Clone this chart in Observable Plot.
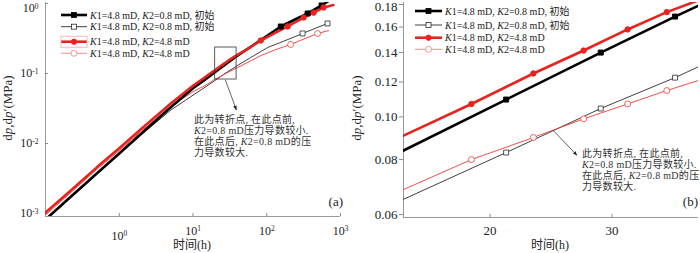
<!DOCTYPE html>
<html><head><meta charset="utf-8">
<script src="https://cdn.jsdelivr.net/npm/d3@7"></script>
<script src="https://cdn.jsdelivr.net/npm/@observablehq/plot@0.6"></script>
<style>
body{margin:0;background:#fff;}
#wrap{position:relative;width:700px;height:253px;overflow:hidden;}
#wrap svg{position:absolute;top:0;}
</style></head><body><div id="wrap"></div>
<script>
// ---------- data ----------
// thick black: dp, K1=4.8 mD, K2=0.8 mD, 初始
const timeBlackP = [0.1, 0.2, 0.5, 1, 2, 5, 10, 15, 21.1, 28.9, 37, 40, 60, 100, 155, 250, 358, 554, 750];
const valBlackP  = [8.2e-4, 1.58e-3, 3.76e-3, 7.2e-3, 0.0139, 0.033, 0.0615, 0.0839, 0.1095, 0.140, 0.169, 0.179, 0.239, 0.343, 0.469, 0.60, 0.72, 0.936, 1.15];
// thin black: dp', K1=4.8 mD, K2=0.8 mD, 初始
const timeBlackD = [0.1, 0.2, 0.5, 1, 2, 5, 10, 15, 21.1, 28.9, 37, 40, 60, 103, 150, 200, 306, 450, 667];
const valBlackD  = [8.0e-4, 1.54e-3, 3.7e-3, 7.0e-3, 0.0134, 0.030, 0.049, 0.065, 0.083, 0.1045, 0.1228, 0.130, 0.168, 0.235, 0.275, 0.31, 0.373, 0.44, 0.518];
// thick red: dp, K1=4.8 mD, K2=4.8 mD
const timeRedP = [0.1, 0.2, 0.5, 1, 2, 5, 10, 15, 18.8, 23.1, 27.3, 31.6, 36, 40, 60, 83, 130, 192, 316, 432, 589, 800];
const valRedP  = [1.03e-3, 1.95e-3, 4.6e-3, 8.55e-3, 0.0162, 0.0372, 0.0666, 0.0907, 0.107, 0.1255, 0.1415, 0.158, 0.173, 0.184, 0.237, 0.296, 0.38, 0.47, 0.63, 0.74, 0.877, 0.95];
// thin red: dp', K1=4.8 mD, K2=4.8 mD
const timeRedD = [0.1, 0.2, 0.5, 1, 2, 5, 10, 15, 18.8, 23.1, 27.3, 31.6, 36, 40, 60, 83, 130, 211, 330, 489, 690];
const valRedD  = [9.5e-4, 1.82e-3, 4.3e-3, 7.9e-3, 0.015, 0.034, 0.055, 0.0684, 0.080, 0.0898, 0.099, 0.107, 0.1148, 0.121, 0.151, 0.18, 0.218, 0.26, 0.315, 0.373, 0.41];

// marker times
const markA = {blackP:[155, 358, 554], blackD:[306, 667], redP:[83, 192, 316, 432, 589], redD:[211, 489]};
const markB = {blackP:[21.1, 28.9, 37], blackD:[21.1, 28.9, 37], redP:[18.8, 23.1, 27.3, 31.6, 36], redD:[18.8, 23.1, 27.3, 31.6, 36]};

// ticks
const xTicksA = [1, 10, 100, 1000];
const yTicksA = [0.001, 0.01, 0.1, 1];
const xTicksB = [20, 30];
const yTicksB = [0.06, 0.08, 0.10, 0.12, 0.14, 0.16, 0.18];

// texts
const legendLabels = ["K1=4.8 mD, K2=0.8 mD, 初始", "K1=4.8 mD, K2=0.8 mD, 初始", "K1=4.8 mD, K2=4.8 mD", "K1=4.8 mD, K2=4.8 mD"];
const noteLines = ["此为转折点, 在此点前,", "K2=0.8 mD压力导数较小.", "在此点后, K2=0.8 mD的压", "力导数较大."];
const xTitle = "时间(h)";

// ---------- build ----------
const FONT = '"Liberation Serif","Noto Sans CJK SC",serif';
const styles = {
  blackP: {stroke:"#000", w:2.6, sym:"square", fill:"#000", r:2.8},
  blackD: {stroke:"#2a2a2a", w:0.9, sym:"square", fill:"#fff", r:2.8},
  redP:   {stroke:"#e8231f", w:2.6, sym:"circle", fill:"#e8231f", r:2.7},
  redD:   {stroke:"#ec3b35", w:0.9, sym:"circle", fill:"#fff", r:3}
};
const order = ["blackP", "blackD", "redP", "redD"];
const tab = (ts, vs) => ts.map((t, i) => ({t, v: vs[i]}));
const data = {
  blackP: tab(timeBlackP, valBlackP),
  blackD: tab(timeBlackD, valBlackD),
  redP: tab(timeRedP, valRedP),
  redD: tab(timeRedD, valRedD)
};

function seriesMarks(marks) {
  const out = [];
  for (const k of ["blackD", "redD", "blackP", "redP"]) {
    const s = styles[k];
    out.push(Plot.line(data[k], {x:"t", y:"v", stroke:s.stroke, strokeWidth:s.w, clip:true}));
  }
  for (const k of ["blackD", "redD", "blackP", "redP"]) {
    const s = styles[k];
    out.push(Plot.dot(data[k].filter(d => marks[k].includes(d.t)),
      {x:"t", y:"v", symbol:s.sym, r:s.r, stroke:s.stroke, fill:s.fill, strokeWidth: s.fill === "#fff" ? 0.8 : 1, clip:true}));
  }
  return out;
}

const wrap = document.getElementById("wrap");

const plotA = Plot.plot({
  width:350, height:253, marginLeft:45, marginRight:10, marginTop:2, marginBottom:37,
  style:{fontFamily:FONT, fontSize:"12px", color:"#222", background:"transparent", overflow:"visible"},
  x:{type:"log", domain:[0.1, 1000]},
  y:{type:"log", domain:[9.06e-4, 1.033]},
  marks:[
    Plot.ruleX([0.1], {stroke:"#999"}),
    Plot.ruleY([9.06e-4], {stroke:"#999"}),
    Plot.axisX({ticks:xTicksA, tickFormat:d => "10^" + Math.round(Math.log10(d)), tickSize:-3, tickPadding:13, label:null, stroke:"#888", fill:"#222"}),
    Plot.axisY({ticks:yTicksA, tickFormat:d => "10^" + Math.round(Math.log10(d)), tickSize:-3, tickPadding:10, label:null, stroke:"#888", fill:"#222"}),
    ...seriesMarks(markA)
  ]
});
plotA.style.left = "0px";
wrap.appendChild(plotA);

const plotB = Plot.plot({
  width:350, height:253, marginLeft:53, marginRight:2, marginTop:2, marginBottom:36,
  style:{fontFamily:FONT, fontSize:"13px", color:"#222", background:"transparent", overflow:"visible"},
  x:{type:"log", domain:[15, 40]},
  y:{type:"log", domain:[0.0591, 0.1819]},
  marks:[
    Plot.ruleX([15], {stroke:"#999"}),
    Plot.ruleY([0.0591], {stroke:"#999"}),
    Plot.axisX({ticks:xTicksB, tickFormat:d => String(d), tickSize:-3, tickPadding:11, label:null, stroke:"#888", fill:"#222"}),
    Plot.axisY({ticks:yTicksB, tickFormat:d3.format(".2f"), tickSize:4, tickPadding:2, label:null, stroke:"#888", fill:"#222"}),
    ...seriesMarks(markB)
  ]
});
plotB.style.left = "350px";
wrap.appendChild(plotB);

const nudge = (el, dy) => {
  const s = d3.select(el);
  s.attr("transform", (s.attr("transform") || "") + ` translate(0,${dy})`);
};

// superscript tick labels
const yScaleA = plotA.scale("y");
d3.select(plotA).selectAll("text").each(function() {
  const m = /^10\^(.+)$/.exec(this.textContent);
  if (m) {
    const t = d3.select(this);
    t.text("");
    t.append("tspan").text("10");
    t.append("tspan").attr("dy", "-0.5em").attr("font-size", "0.62em").text(m[1]);
  }
});
// the top y label of panel a sits a little below its tick (as in the reference)
d3.select(plotA).selectAll("text").each(function() {
  const box = this.getBBox();
  if (this.textContent === "100" && box.y < 8 && box.x < 45) nudge(this, 5);
});
// top label of panel b sits slightly inside the svg
d3.select(plotB).selectAll("text").each(function() {
  if (this.textContent === "0.18") nudge(this, 2);
});

function richLabel(sel, str) {
  str.split(/(K)/).forEach(p => {
    if (!p) return;
    const ts = sel.append("tspan").text(p);
    if (p === "K") ts.attr("font-style", "italic");
  });
}

function addArrowDef(svg, id) {
  d3.select(svg).append("defs").append("marker")
    .attr("id", id).attr("viewBox", "0 0 10 10").attr("refX", 9).attr("refY", 5)
    .attr("markerWidth", 7).attr("markerHeight", 7).attr("orient", "auto")
    .append("path").attr("d", "M0,1.5L10,5L0,8.5z").attr("fill", "#222");
}

function decorate(svg, opt) {
  const g = d3.select(svg).append("g").attr("font-family", FONT).attr("text-anchor", "start");
  // legend
  opt.legendY.forEach((y, i) => {
    const s = styles[order[i]];
    g.append("line").attr("x1", opt.lx0).attr("x2", opt.lx1).attr("y1", y).attr("y2", y)
      .attr("stroke", i === 3 ? "#f08080" : s.stroke).attr("stroke-width", s.w);
    const cx = (opt.lx0 + opt.lx1) / 2;
    if (s.sym === "square") {
      g.append("rect").attr("x", cx - 2.5).attr("y", y - 2.5).attr("width", 5).attr("height", 5)
        .attr("fill", s.fill).attr("stroke", s.stroke).attr("stroke-width", 0.8);
    } else {
      g.append("circle").attr("cx", cx).attr("cy", y).attr("r", s.r)
        .attr("fill", s.fill).attr("stroke", i === 3 ? "#f08080" : s.stroke).attr("stroke-width", 0.8);
    }
    const t = g.append("text").attr("x", opt.tx).attr("y", y + 3.5).attr("font-size", 10)
      .attr("text-anchor", "start").attr("fill", "#222");
    richLabel(t, legendLabels[i]);
  });
  if (opt.redBox) {
    g.append("rect").attr("x", opt.lx0).attr("y", opt.legendY[2] - 5.5).attr("width", opt.lx1 - opt.lx0).attr("height", 11)
      .attr("fill", "none").attr("stroke", "#f4a5a5").attr("stroke-width", 0.8);
  }
  // arrow
  g.append("line").attr("x1", opt.a0[0]).attr("y1", opt.a0[1]).attr("x2", opt.a1[0]).attr("y2", opt.a1[1])
    .attr("stroke", "#222").attr("stroke-width", 0.7).attr("marker-end", `url(#${opt.arrowId})`);
  // note
  noteLines.forEach((line, i) => {
    const t = g.append("text").attr("x", opt.nx).attr("y", opt.ny + i * 10.9)
      .attr("font-size", 10).attr("letter-spacing", "0.3px").attr("text-anchor", "start").attr("fill", "#333");
    richLabel(t, line);
  });
  // panel tag
  g.append("text").attr("x", opt.tagX).attr("y", 206).attr("font-size", 13).attr("text-anchor", "end").attr("fill", "#222").text(opt.tag);
  // x title
  g.append("text").attr("x", opt.xtX).attr("y", 249).attr("font-size", 12).attr("text-anchor", "middle").attr("fill", "#222").text(xTitle);
  // y title
  const yt = g.append("text").attr("transform", `translate(${opt.ytX},108) rotate(-90)`)
    .attr("font-size", 13).attr("text-anchor", "middle").attr("fill", "#222");
  yt.append("tspan").text("d");
  yt.append("tspan").attr("font-style", "italic").text("p");
  yt.append("tspan").text(",d");
  yt.append("tspan").attr("font-style", "italic").text("p");
  yt.append("tspan").text("′(MPa)");
}

// panel a annotation: zoom box drawn through scales
const xa = plotA.scale("x"), ya = plotA.scale("y");
const bx0 = xa.apply(20), bx1 = xa.apply(39), by0 = ya.apply(0.235), by1 = ya.apply(0.082);
addArrowDef(plotA, "arrA");
d3.select(plotA).append("rect").attr("x", bx0).attr("y", by0).attr("width", bx1 - bx0).attr("height", by1 - by0)
  .attr("fill", "none").attr("stroke", "#333").attr("stroke-width", 0.8);
const aStart = [(bx0 + bx1) / 2, by1 + 1];
decorate(plotA, {
  legendY:[15, 26.7, 41.7, 53.3], lx0:61, lx1:87, tx:90, redBox:true,
  arrowId:"arrA", a0:aStart, a1:[aStart[0] + 11, aStart[1] + 30],
  nx:194, ny:123, tag:"(a)", tagX:343, xtX:192, ytX:12
});

// panel b annotation: arrow from the crossing of the two derivative curves
const xb = plotB.scale("x"), yb = plotB.scale("y");
addArrowDef(plotB, "arrB");
const bStart = [xb.apply(24.7), yb.apply(0.093)];
decorate(plotB, {
  legendY:[11, 25, 37.7, 49.3], lx0:65, lx1:92, tx:95, redBox:false,
  arrowId:"arrB", a0:bStart, a1:[bStart[0] + 24, bStart[1] + 25],
  nx:232, ny:157, tag:"(b)", tagX:348, xtX:200, ytX:11
});
</script>
</body></html>
